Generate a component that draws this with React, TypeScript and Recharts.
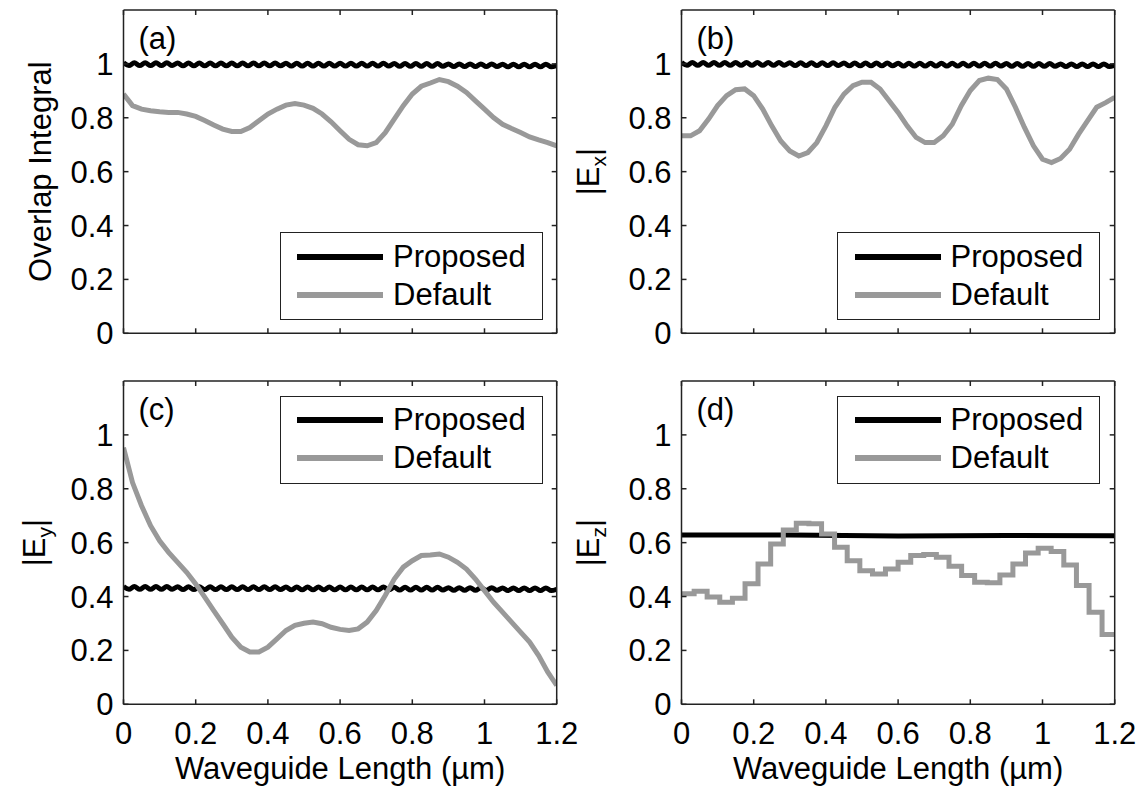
import React from 'react';
import { LineChart, Line, XAxis, YAxis, Legend } from 'recharts';

const FONT = '"Liberation Sans", Arial, Helvetica, sans-serif';
const AXIS_COLOR = '#222';
const PROPOSED_COLOR = '#000';
const DEFAULT_COLOR = '#999';

const SERIES_ORDER = ['Proposed', 'Default'];
const X_TICKS = [0, 0.2, 0.4, 0.6, 0.8, 1, 1.2];
const Y_TICKS = [0, 0.2, 0.4, 0.6, 0.8, 1];
const X_TITLE = 'Waveguide Length (µm)';

// sample grid of the smooth "Default" curves (a)-(c)
const DEFAULT_X = [
  0, 0.025, 0.05, 0.075, 0.1, 0.125, 0.15, 0.175, 0.2, 0.225, 0.25, 0.275, 0.3, 0.325, 0.35, 0.375,
  0.4, 0.425, 0.45, 0.475, 0.5, 0.525, 0.55, 0.575, 0.6, 0.625, 0.65, 0.675, 0.7, 0.725, 0.75, 0.775,
  0.8, 0.825, 0.85, 0.875, 0.9, 0.925, 0.95, 0.975, 1, 1.025, 1.05, 1.075, 1.1, 1.125, 1.15, 1.175, 1.2,
];

// finer grid for the rippled "Proposed" curves (a)-(c)
const RIPPLE_X = [
  0, 0.015, 0.03, 0.045, 0.06, 0.075, 0.09, 0.105, 0.12, 0.135, 0.15, 0.165, 0.18, 0.195, 0.21, 0.225,
  0.24, 0.255, 0.27, 0.285, 0.3, 0.315, 0.33, 0.345, 0.36, 0.375, 0.39, 0.405, 0.42, 0.435, 0.45, 0.465,
  0.48, 0.495, 0.51, 0.525, 0.54, 0.555, 0.57, 0.585, 0.6, 0.615, 0.63, 0.645, 0.66, 0.675, 0.69, 0.705,
  0.72, 0.735, 0.75, 0.765, 0.78, 0.795, 0.81, 0.825, 0.84, 0.855, 0.87, 0.885, 0.9, 0.915, 0.93, 0.945,
  0.96, 0.975, 0.99, 1.005, 1.02, 1.035, 1.05, 1.065, 1.08, 1.095, 1.11, 1.125, 1.14, 1.155, 1.17, 1.185, 1.2,
];

// stair positions of panel (d) "Default"
const STEP_X = [
  0, 0.035, 0.071, 0.106, 0.141, 0.176, 0.212, 0.247, 0.282, 0.318, 0.353, 0.388, 0.424, 0.459, 0.494,
  0.529, 0.565, 0.6, 0.635, 0.671, 0.706, 0.741, 0.776, 0.812, 0.847, 0.882, 0.918, 0.953, 0.988, 1.024,
  1.059, 1.094, 1.129, 1.165, 1.2,
];

const FLAT_X = [0, 0.3, 0.6, 0.9, 1.2];

// (a) Overlap Integral
const A_DEFAULT = [
  0.888, 0.845, 0.832, 0.826, 0.822, 0.82, 0.82, 0.814, 0.805, 0.79,
  0.773, 0.758, 0.749, 0.749, 0.764, 0.789, 0.814, 0.832, 0.847, 0.853,
  0.847, 0.835, 0.814, 0.785, 0.752, 0.72, 0.7, 0.696, 0.708, 0.745,
  0.795, 0.845, 0.888, 0.917, 0.929, 0.942, 0.934, 0.917, 0.894, 0.863,
  0.832, 0.801, 0.776, 0.76, 0.745, 0.729, 0.718, 0.708, 0.696,
];
const A_PROPOSED = [
  1.004, 0.994, 1.004, 0.994, 1.004, 0.994, 1.004, 0.994, 1.004, 0.994,
  1.003, 0.993, 1.003, 0.993, 1.003, 0.993, 1.003, 0.993, 1.003, 0.993,
  1.003, 0.993, 1.003, 0.993, 1.003, 0.993, 1.003, 0.993, 1.003, 0.993,
  1.002, 0.992, 1.002, 0.992, 1.002, 0.992, 1.002, 0.992, 1.002, 0.992,
  1.002, 0.992, 1.002, 0.992, 1.002, 0.992, 1.002, 0.992, 1.002, 0.992,
  1.001, 0.991, 1.001, 0.991, 1.001, 0.991, 1.001, 0.991, 1.001, 0.991,
  1.0, 0.99, 1.0, 0.99, 1.0, 0.99, 1.0, 0.99, 1.0, 0.99,
  0.999, 0.989, 0.999, 0.989, 0.999, 0.989, 0.999, 0.989, 0.999, 0.989,
  0.994,
];

// (b) |Ex|
const B_DEFAULT = [
  0.733, 0.733, 0.752, 0.795, 0.845, 0.882, 0.904, 0.907, 0.882, 0.832,
  0.77, 0.714, 0.677, 0.658, 0.671, 0.708, 0.77, 0.839, 0.888, 0.919,
  0.932, 0.932, 0.907, 0.863, 0.82, 0.77, 0.727, 0.708, 0.708, 0.733,
  0.776, 0.845, 0.901, 0.938, 0.947, 0.942, 0.907, 0.839, 0.764, 0.696,
  0.646, 0.634, 0.649, 0.683, 0.739, 0.789, 0.839, 0.856, 0.876,
];
const B_PROPOSED = [
  1.005, 0.995, 1.005, 0.995, 1.005, 0.995, 1.005, 0.995, 1.005, 0.995,
  1.005, 0.995, 1.005, 0.995, 1.005, 0.995, 1.005, 0.995, 1.005, 0.995,
  1.004, 0.994, 1.004, 0.994, 1.004, 0.994, 1.004, 0.994, 1.004, 0.994,
  1.003, 0.993, 1.003, 0.993, 1.003, 0.993, 1.003, 0.993, 1.003, 0.993,
  1.002, 0.992, 1.002, 0.992, 1.002, 0.992, 1.002, 0.992, 1.002, 0.992,
  1.002, 0.992, 1.002, 0.992, 1.002, 0.992, 1.002, 0.992, 1.002, 0.992,
  1.001, 0.991, 1.001, 0.991, 1.001, 0.991, 1.001, 0.991, 1.001, 0.991,
  1.0, 0.99, 1.0, 0.99, 1.0, 0.99, 1.0, 0.99, 1.0, 0.99,
  0.995,
];

// (c) |Ey|
const C_DEFAULT = [
  0.953, 0.823, 0.737, 0.663, 0.607, 0.564, 0.527, 0.49, 0.447, 0.398,
  0.348, 0.299, 0.249, 0.212, 0.194, 0.194, 0.212, 0.243, 0.274, 0.293,
  0.301, 0.305, 0.299, 0.286, 0.278, 0.274, 0.28, 0.305, 0.348, 0.404,
  0.465, 0.509, 0.533, 0.552, 0.554, 0.558, 0.546, 0.527, 0.502, 0.465,
  0.422, 0.379, 0.342, 0.305, 0.268, 0.231, 0.181, 0.12, 0.07,
];
const C_PROPOSED = [
  0.437, 0.427, 0.437, 0.427, 0.437, 0.427, 0.437, 0.427, 0.437, 0.427,
  0.436, 0.426, 0.436, 0.426, 0.436, 0.426, 0.436, 0.426, 0.436, 0.426,
  0.436, 0.426, 0.436, 0.426, 0.436, 0.426, 0.436, 0.426, 0.436, 0.426,
  0.435, 0.425, 0.435, 0.425, 0.435, 0.425, 0.435, 0.425, 0.435, 0.425,
  0.435, 0.425, 0.435, 0.425, 0.435, 0.425, 0.435, 0.425, 0.435, 0.425,
  0.434, 0.424, 0.434, 0.424, 0.434, 0.424, 0.434, 0.424, 0.434, 0.424,
  0.433, 0.423, 0.433, 0.423, 0.433, 0.423, 0.433, 0.423, 0.433, 0.423,
  0.432, 0.422, 0.432, 0.422, 0.432, 0.422, 0.432, 0.422, 0.432, 0.422,
  0.427,
];

// (d) |Ez|
const D_DEFAULT = [
  0.41, 0.42, 0.398, 0.379, 0.394, 0.447, 0.521, 0.595, 0.647, 0.672,
  0.67, 0.632, 0.583, 0.533, 0.496, 0.484, 0.502, 0.527, 0.552, 0.556,
  0.546, 0.512, 0.478, 0.453, 0.451, 0.48, 0.521, 0.562, 0.579, 0.567,
  0.517, 0.441, 0.342, 0.259, 0.259,
];
const D_PROPOSED = [0.628, 0.628, 0.625, 0.627, 0.626];

type Pt = { x: number; y: number };
const pts = (xs: number[], ys: number[]): Pt[] => xs.map((x, i) => ({ x, y: ys[i] }));

const tickStyle = { fill: '#000', fontSize: 31, fontFamily: FONT };
const blank = () => '';

const LegendBox = ({ payload }: { payload?: any[] }) => {
  const items = [...(payload || [])].sort(
    (a, b) => SERIES_ORDER.indexOf(a.value) - SERIES_ORDER.indexOf(b.value)
  );
  return (
    <div
      style={{
        boxSizing: 'border-box',
        width: 263,
        height: 88,
        border: `1.5px solid ${AXIS_COLOR}`,
        background: '#fff',
        padding: '4.5px 0 0 16.5px',
        fontFamily: FONT,
        fontSize: 31,
        color: '#000',
      }}
    >
      {items.map((entry) => (
        <div key={entry.value} style={{ display: 'flex', alignItems: 'center', height: 38 }}>
          <svg width={86} height={10}>
            <line x1={0} y1={5} x2={86} y2={5} stroke={entry.color} strokeWidth={6} />
          </svg>
          <span style={{ marginLeft: 10, lineHeight: '38px' }}>{entry.value}</span>
        </div>
      ))}
    </div>
  );
};

type PanelProps = {
  left: number;
  top: number;
  tag: string;
  yMain: string;
  ySub?: string;
  yOffset: number;
  proposed: Pt[];
  def: Pt[];
  proposedType: 'monotone' | 'linear';
  defType: 'linear' | 'stepAfter';
  legendTop: number;
  showX: boolean;
};

const Panel: React.FC<PanelProps> = (p) => {
  const height = p.showX ? 415 : 360;
  const xAxisHeight = p.showX ? 70 : 20;
  const bottom = height - 333.3 - xAxisHeight;

  const yTitle = (props: any) => {
    const vb = props.viewBox;
    const cx = vb.x + vb.width + p.yOffset;
    const cy = vb.y + vb.height / 2;
    return (
      <text
        x={cx}
        y={cy}
        transform={`rotate(-90 ${cx} ${cy})`}
        textAnchor="middle"
        fontFamily={FONT}
        fontSize={31}
        fill="#000"
      >
        {p.yMain}
        {p.ySub && (
          <>
            <tspan fontSize={21} dy={7}>
              {p.ySub}
            </tspan>
            <tspan dy={-7}>|</tspan>
          </>
        )}
      </text>
    );
  };

  const tagLabel = (props: any) => {
    const vb = props.viewBox;
    return (
      <text x={vb.x + 15} y={vb.y + vb.height + 38.5} fontFamily={FONT} fontSize={31} fill="#000">
        {p.tag}
      </text>
    );
  };

  const xTitle = (props: any) => {
    const vb = props.viewBox;
    return (
      <text x={vb.x + vb.width / 2} y={vb.y + 74.5} textAnchor="middle" fontFamily={FONT} fontSize={31} fill="#000">
        {X_TITLE}
      </text>
    );
  };

  return (
    <div style={{ position: 'absolute', left: p.left, top: p.top }}>
      <LineChart width={581} height={height} margin={{ top: 9, right: 23.3, left: 63.5, bottom }}>
        <XAxis
          dataKey="x"
          type="number"
          domain={[0, 1.2]}
          ticks={X_TICKS}
          allowDataOverflow
          height={xAxisHeight}
          stroke={AXIS_COLOR}
          strokeWidth={1.5}
          tickSize={-5}
          tickMargin={22.5}
          tick={tickStyle}
          tickFormatter={p.showX ? undefined : blank}
          label={p.showX ? xTitle : undefined}
        />
        <XAxis
          xAxisId="top"
          orientation="top"
          dataKey="x"
          type="number"
          domain={[0, 1.2]}
          ticks={X_TICKS}
          allowDataOverflow
          height={1}
          stroke={AXIS_COLOR}
          strokeWidth={1.5}
          tickSize={-5}
          tickFormatter={blank}
          label={tagLabel}
        />
        <YAxis
          type="number"
          domain={[0, 1.2]}
          ticks={Y_TICKS}
          allowDataOverflow
          width={60}
          stroke={AXIS_COLOR}
          strokeWidth={1.5}
          tickSize={-5}
          tickMargin={15}
          tick={tickStyle}
          label={yTitle}
        />
        <YAxis
          yAxisId="right"
          orientation="right"
          type="number"
          domain={[0, 1.2]}
          ticks={Y_TICKS}
          allowDataOverflow
          width={1}
          stroke={AXIS_COLOR}
          strokeWidth={1.5}
          tickSize={-5}
          tickFormatter={blank}
        />
        <Legend
          layout="vertical"
          align="center"
          verticalAlign="middle"
          wrapperStyle={{ position: 'absolute', left: 279.5, top: p.legendTop, width: 263, height: 88, margin: 0 }}
          content={(props: any) => <LegendBox payload={props.payload} />}
        />
        <Line
          data={p.proposed}
          dataKey="y"
          name="Proposed"
          type={p.proposedType}
          stroke={PROPOSED_COLOR}
          strokeWidth={5}
          dot={false}
          isAnimationActive={false}
        />
        <Line
          data={p.def}
          dataKey="y"
          name="Default"
          type={p.defType}
          stroke={DEFAULT_COLOR}
          strokeWidth={5}
          dot={false}
          isAnimationActive={false}
        />
      </LineChart>
    </div>
  );
};

const App: React.FC = () => (
  <div
    style={{
      position: 'absolute',
      left: 0,
      top: 0,
      width: 1139,
      height: 786,
      background: '#fff',
      overflow: 'hidden',
    }}
  >
    <Panel
      left={0}
      top={0}
      tag="(a)"
      yMain="Overlap Integral"
      yOffset={-72.5}
      proposed={pts(RIPPLE_X, A_PROPOSED)}
      def={pts(DEFAULT_X, A_DEFAULT)}
      proposedType="monotone"
      defType="linear"
      legendTop={232}
      showX={false}
    />
    <Panel
      left={557.5}
      top={0}
      tag="(b)"
      yMain="|E"
      ySub="x"
      yOffset={-82}
      proposed={pts(RIPPLE_X, B_PROPOSED)}
      def={pts(DEFAULT_X, B_DEFAULT)}
      proposedType="monotone"
      defType="linear"
      legendTop={232}
      showX={false}
    />
    <Panel
      left={0}
      top={371}
      tag="(c)"
      yMain="|E"
      ySub="y"
      yOffset={-78.5}
      proposed={pts(RIPPLE_X, C_PROPOSED)}
      def={pts(DEFAULT_X, C_DEFAULT)}
      proposedType="monotone"
      defType="linear"
      legendTop={24.7}
      showX
    />
    <Panel
      left={557.5}
      top={371}
      tag="(d)"
      yMain="|E"
      ySub="z"
      yOffset={-82}
      proposed={pts(FLAT_X, D_PROPOSED)}
      def={pts(STEP_X, D_DEFAULT)}
      proposedType="linear"
      defType="stepAfter"
      legendTop={24.7}
      showX
    />
  </div>
);

export default App;
